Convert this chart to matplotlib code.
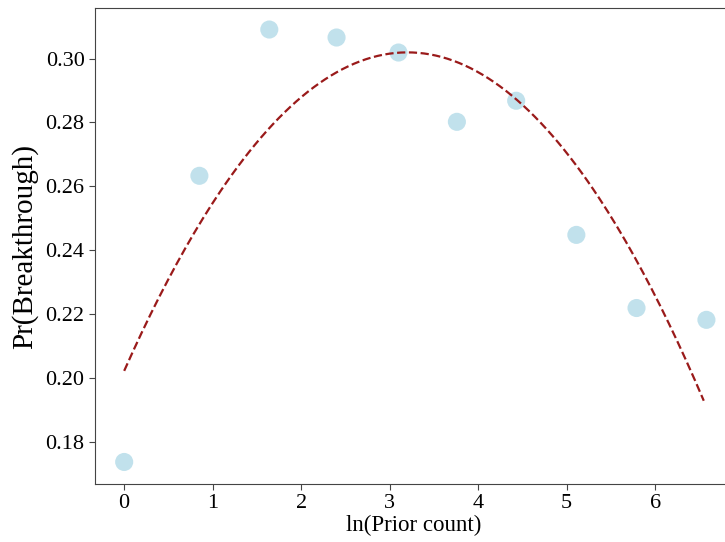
import numpy as np
import matplotlib
matplotlib.use("Agg")
import matplotlib.pyplot as plt

plt.rcParams['font.family'] = ['Liberation Serif', 'DejaVu Serif']

ln_prior = [0.0, 0.85, 1.64, 2.40, 3.10, 3.76, 4.43, 5.11, 5.79, 6.58]
pr_break = [0.1737, 0.2633, 0.3091, 0.3066, 0.3019, 0.2802, 0.2868, 0.2448, 0.2219, 0.2182]
x_ticks = [0, 1, 2, 3, 4, 5, 6]
y_ticks = [0.18, 0.20, 0.22, 0.24, 0.26, 0.28, 0.30]

fig = plt.figure(figsize=(7.25, 5.42), dpi=100)
ax = fig.add_axes([0.131, 0.107, 0.880, 0.878])

ax.scatter(ln_prior, pr_break, s=170, color='lightblue', alpha=0.75, edgecolors='none', zorder=2)

coef = np.polyfit(ln_prior, pr_break, 2)
xs = np.linspace(0, 6.55, 200)
ax.plot(xs, np.polyval(coef, xs), color='#9a1a1a', linestyle='--', linewidth=1.6, zorder=3)

ax.set_xticks(x_ticks)
ax.set_yticks(y_ticks)
ax.set_yticklabels([f"{v:.2f}" for v in y_ticks])
ax.tick_params(labelsize=16, color='#444444', length=4)
ax.set_xlim(-0.33, 6.88)
ax.set_ylim(0.1668, 0.3158)
ax.set_xlabel("ln(Prior count)", fontsize=16.5, labelpad=1)
ax.set_ylabel("Pr(Breakthrough)", fontsize=21, labelpad=5)
for sp in ax.spines.values():
    sp.set_color('#444444')

fig.savefig("out.png", dpi=100)
